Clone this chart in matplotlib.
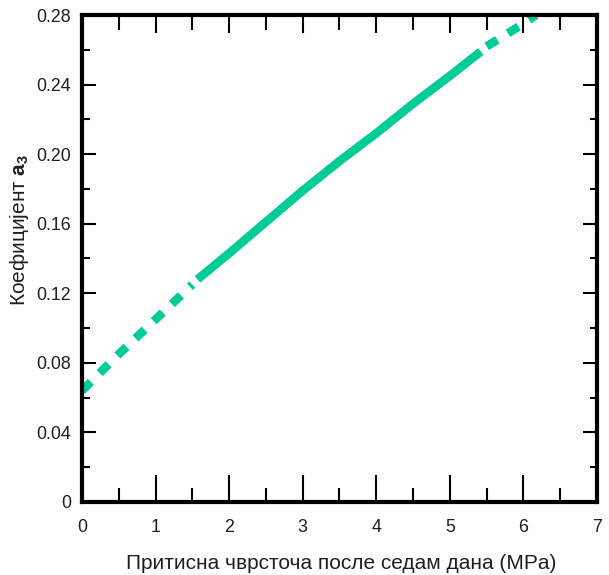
import numpy as np
from matplotlib import pyplot as plt, ticker as mtick

plt.rcParams['font.family'] = ['Liberation Sans', 'DejaVu Sans']
plt.rcParams['mathtext.fontset'] = 'custom'
plt.rcParams['mathtext.rm'] = 'Liberation Sans'
plt.rcParams['mathtext.bf'] = 'Liberation Sans:bold'

# Coefficient a3 vs. 7-day compressive strength
# extrapolated (dashed) lower part
x_low = [0.0, 0.5, 1.0, 1.5]
y_low = [0.064, 0.085, 0.105, 0.125]
# measured range (solid)
x_mid = [1.57, 2.0, 2.5, 3.0, 3.5, 4.0, 4.5, 5.0, 5.42]
y_mid = [0.128, 0.143, 0.161, 0.179, 0.196, 0.212, 0.229, 0.245, 0.259]
# extrapolated (dashed) upper part
x_high = [5.5, 6.0, 6.17]
y_high = [0.262, 0.275, 0.28]

x_ticks = np.arange(0, 8, 1)
y_ticks = [0, 0.04, 0.08, 0.12, 0.16, 0.20, 0.24, 0.28]
y_tick_labels = ["0", "0.04", "0.08", "0.12", "0.16", "0.20", "0.24", "0.28"]

line_color = "#00CC96"
text_color = "#1e1e1e"

fig = plt.figure(figsize=(6.09, 5.75), dpi=100)
ax = fig.add_axes([0.1346, 0.127, 0.8457, 0.8469])

dash = (0, (1.45, 1.45))
ax.plot(x_low, y_low, color=line_color, lw=6.2, linestyle=dash, dash_capstyle="butt")
ax.plot(x_mid, y_mid, color=line_color, lw=6.2, solid_capstyle="butt")
ax.plot(x_high, y_high, color=line_color, lw=6.2, linestyle=dash, dash_capstyle="butt")

ax.set_xlim(0, 7)
ax.set_ylim(0, 0.28)
ax.set_xticks(x_ticks)
ax.set_yticks(y_ticks)
ax.set_yticklabels(y_tick_labels)
ax.xaxis.set_minor_locator(mtick.MultipleLocator(0.5))
ax.yaxis.set_minor_locator(mtick.MultipleLocator(0.02))

for side in ax.spines.values():
    side.set_linewidth(3)
    side.set_color("black")

ax.tick_params(axis="x", which="major", direction="in", length=19.5, width=1.5, pad=12,
               labelsize=12.8, labelcolor=text_color, top=False)
ax.tick_params(axis="x", which="minor", direction="in", length=10, width=1.5, top=False)
ax.tick_params(axis="y", which="major", direction="in", length=10, width=1.5, pad=8,
               labelsize=12.8, labelcolor=text_color, right=False)
ax.tick_params(axis="y", which="minor", direction="in", length=6, width=1.5, right=False)

# top and right ticks have their own lengths
top = ax.secondary_xaxis("top")
top.set_xticks(x_ticks)
top.xaxis.set_minor_locator(mtick.MultipleLocator(0.5))
top.tick_params(which="major", direction="in", length=13, width=1.5, labeltop=False)
top.tick_params(which="minor", direction="in", length=11, width=1.5)
top.spines["top"].set_visible(False)

right = ax.secondary_yaxis("right")
right.set_yticks(y_ticks)
right.yaxis.set_minor_locator(mtick.MultipleLocator(0.02))
right.tick_params(which="major", direction="in", length=10, width=1.5, labelright=False)
right.tick_params(which="minor", direction="in", length=5, width=1.5)
right.spines["right"].set_visible(False)

ax.set_xlabel("Притисна чврсточа после седам дана (MPa)", fontsize=15,
              color=text_color, va="center")
ax.xaxis.set_label_coords(0.503, -0.127)
ax.set_ylabel(r"Коефицијент $\mathbf{a}_\mathbf{3}$", fontsize=15,
              color=text_color, va="center")
ax.yaxis.set_label_coords(-0.122, 0.558)

plt.savefig("out.png", dpi=100)
